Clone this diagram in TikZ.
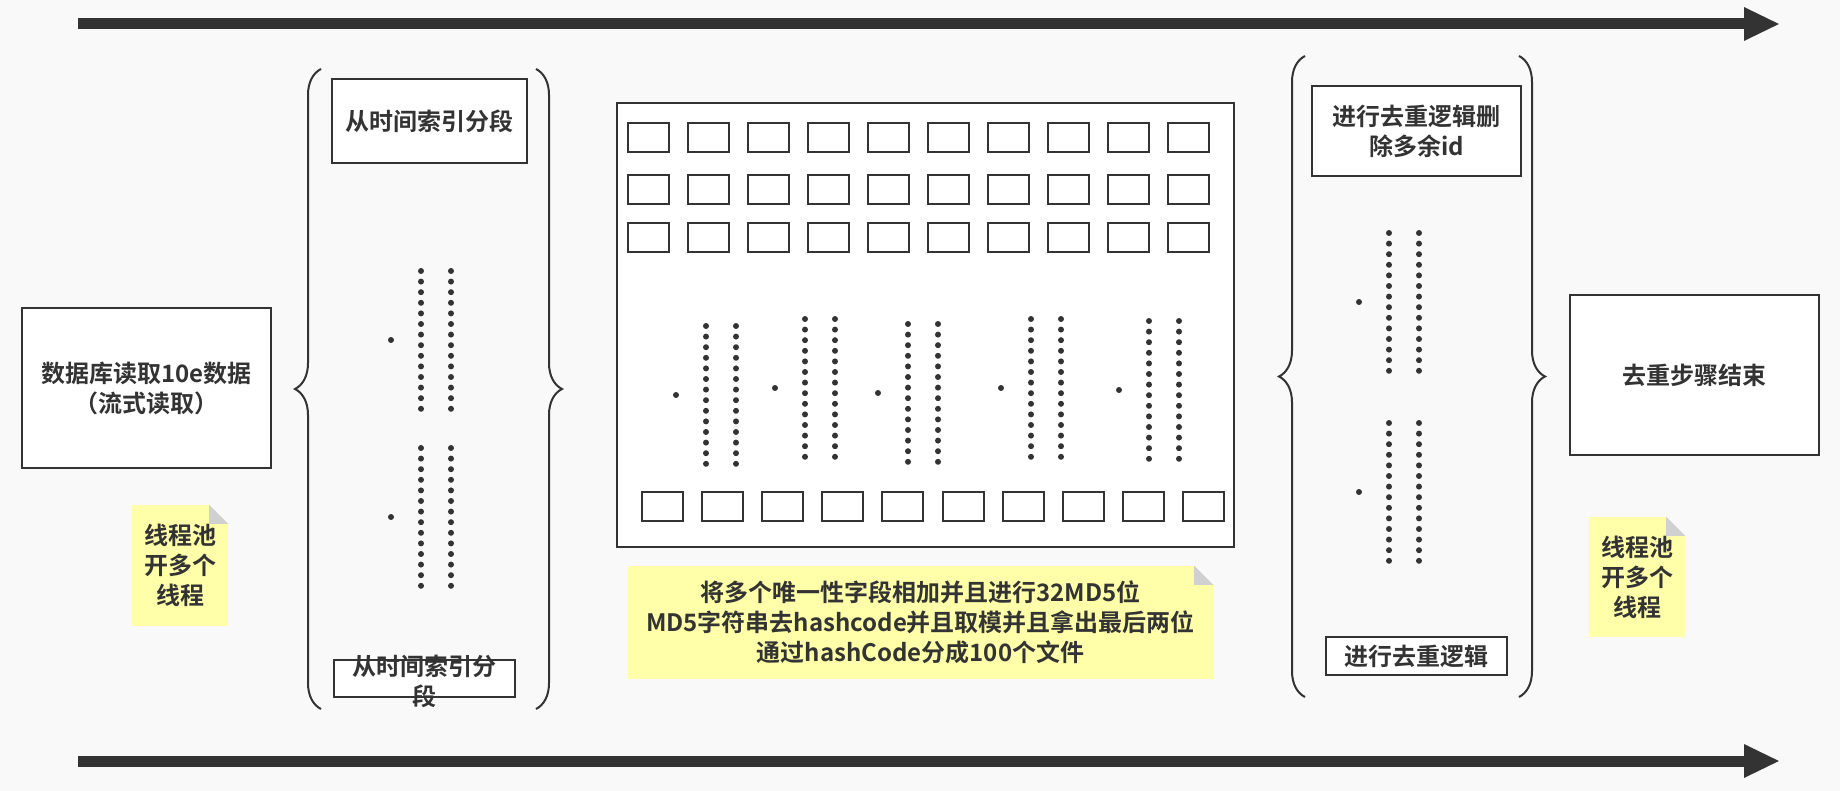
\documentclass[tikz,border=0pt]{standalone}
\usepackage{fontspec}
\setmainfont{Noto Sans CJK SC}[BoldFont={Noto Sans CJK SC Bold}]
\usetikzlibrary{arrows.meta,decorations.pathreplacing}
\definecolor{ink}{HTML}{333333}
\definecolor{paper}{HTML}{F9F9F9}
\definecolor{memoyellow}{HTML}{FFFFAA}
\definecolor{memofold}{HTML}{D0D0D0}
\tikzset{
  cnfont/.style={font=\fontsize{24}{30}\selectfont\bfseries, text=ink, align=center},
  procbox/.style={cnfont, draw=ink, line width=2pt, fill=white, inner sep=0pt},
  cell/.style={draw=ink, line width=2pt, fill=white, minimum width=41pt, minimum height=29pt, inner sep=0pt},
  memonote/.style={cnfont, fill=memoyellow, inner sep=0pt},
  curly/.style={draw=ink, line width=2pt, decorate, decoration={brace, amplitude=26pt}},
  timeline/.style={draw=ink, line width=11pt, -{Triangle[length=36pt,width=31pt]}}
}
\begin{document}
\begin{tikzpicture}[x=1pt, y=-1pt]
	\useasboundingbox (0,0) rectangle (1840,791);
	\fill[paper] (0,0) rectangle (1840,791);
	\coordinate (topstart) at (78,24);
	\coordinate (topend) at (1780,24);
	\coordinate (botstart) at (78,761);
	\coordinate (botend) at (1780,761);
	\draw[timeline] (topstart) -- (topend);
	\draw[timeline] (botstart) -- (botend);
	\node[procbox, minimum width=249pt, minimum height=160pt] (dbread) at (146.5,388) {数据库读取10e数据\\（流式读取）};
	\draw[curly] (321,709) -- (321,69);
	\draw[curly] (536,69) -- (536,709);
	\node[procbox, minimum width=195pt, minimum height=84pt] (segtop) at (429.5,121) {从时间索引分段};
	\node[procbox, minimum width=181pt, minimum height=37pt] (segbot) at (424.5,678.5) {};
	\node[cnfont] (segbottext) at ([yshift=-3pt]segbot.center) {从时间索引分\\段};
	\node[draw=ink, line width=2pt, fill=white, minimum width=617pt, minimum height=444pt] (hashpanel) at (925.5,325) {};
	\foreach \r/\y in {1/137.5, 2/189.5, 3/237.5}
		\foreach \i in {0,...,9}
			\node[cell] (cell\r-\i) at (648.5+60*\i,\y) {};
	\foreach \i in {0,...,9}
		\node[cell] (file\i) at (662.5+60.1*\i,506.5) {};
	\foreach \x/\y in {421/271, 421/448, 706/326, 805/319, 908/324, 1031/319, 1149/321, 1389/233, 1389/423} {
		\fill[ink] (\x-30,\y+69) circle (3pt);
		\foreach \k in {0,...,13} {
			\fill[ink] (\x,\y+10.6*\k) circle (3pt);
			\fill[ink] (\x+30,\y+10.6*\k) circle (3pt);
		}
	}
	\node[memonote, minimum width=96pt, minimum height=121pt] (notel) at (180,565.5) {线程池\\开多个\\线程};
	\node[memonote, minimum width=585pt, minimum height=113pt] (notem) at (920.5,622.5) {将多个唯一性字段相加并且进行32MD5位\\MD5字符串去hashcode并且取模并且拿出最后两位\\通过hashCode分成100个文件};
	\node[memonote, minimum width=96pt, minimum height=120pt] (noter) at (1637,577) {线程池\\开多个\\线程};
	\foreach \n in {notel, notem, noter} {
		\fill[paper] (\n.north east) -- ++(-19pt,0pt) -- ++(19pt,-19pt) -- cycle;
		\fill[memofold] (\n.north east) ++(-19pt,0pt) -- ++(0pt,-19pt) -- ++(19pt,0pt) -- cycle;
	}
	\draw[curly] (1305,697) -- (1305,56);
	\draw[curly] (1519,56) -- (1519,697);
	\node[procbox, minimum width=209pt, minimum height=90pt] (dedupe) at (1416.5,131) {进行去重逻辑删\\除多余id};
	\node[procbox, minimum width=181pt, minimum height=38pt] (dedupebot) at (1416.5,656) {进行去重逻辑};
	\node[procbox, minimum width=249pt, minimum height=160pt] (done) at (1694.5,375) {去重步骤结束};
\end{tikzpicture}
\end{document}
